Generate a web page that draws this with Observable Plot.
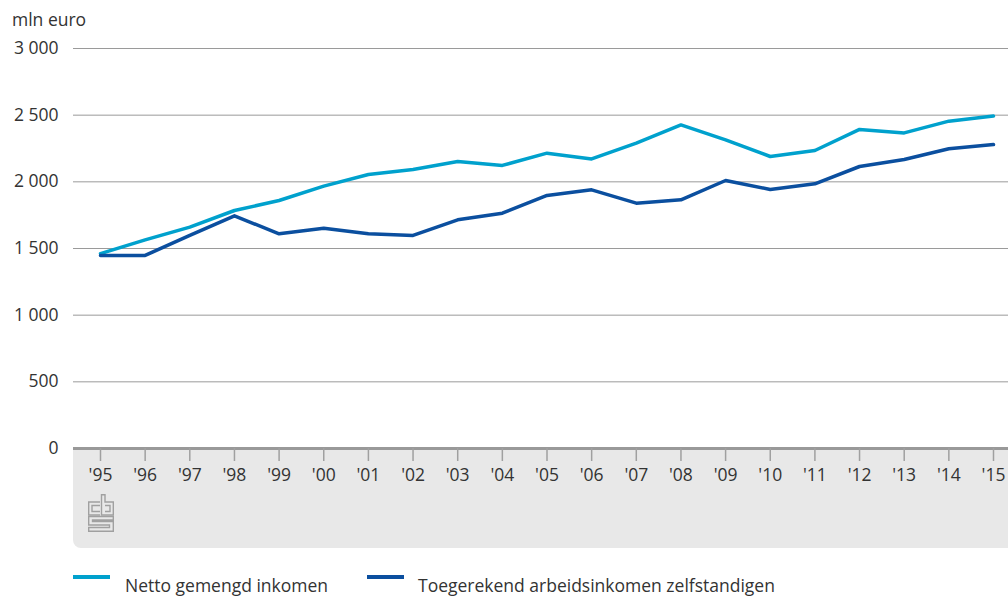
<!DOCTYPE html>
<html><head><meta charset="utf-8">
<script src="https://cdn.jsdelivr.net/npm/d3@7"></script>
<script src="https://cdn.jsdelivr.net/npm/@observablehq/plot@0.6"></script>
<style>
body{margin:0;background:#fff;font-family:"Open Sans",sans-serif;color:#333;width:1008px;overflow:hidden;}
#unit{height:30px;box-sizing:border-box;padding:7px 0 0 12px;font-size:17.5px;line-height:24px;color:#333;}
#legend{position:relative;height:36px;font-size:17.5px;line-height:24px;color:#333;}
.item{position:absolute;top:13px;white-space:nowrap;}
.sw{position:absolute;top:15px;width:37px;height:4px;}
</style></head>
<body>
<div id="unit">mln euro</div>
<div id="chart"></div>
<div id="legend"></div>
<script>
const years = [1995,1996,1997,1998,1999,2000,2001,2002,2003,2004,2005,2006,2007,2008,2009,2010,2011,2012,2013,2014,2015];
const tickLabels = ["'95","'96","'97","'98","'99","'00","'01","'02","'03","'04","'05","'06","'07","'08","'09","'10","'11","'12","'13","'14","'15"];
const seriesNames = ["Netto gemengd inkomen","Toegerekend arbeidsinkomen zelfstandigen"];
const netto = [1462,1565,1660,1785,1860,1968,2055,2093,2153,2123,2215,2172,2290,2427,2315,2190,2235,2393,2367,2455,2493];
const toegerekend = [1448,1448,1598,1745,1610,1652,1610,1598,1715,1765,1898,1940,1840,1865,2010,1943,1985,2115,2167,2248,2280];
const seriesColors = ["#00a1cd","#0b4f9f"];
const yTicks = [0,500,1000,1500,2000,2500,3000];

const data = years.flatMap((y,i)=>[
  {year:y, value:netto[i], series:seriesNames[0]},
  {year:y, value:toegerekend[i], series:seriesNames[1]}
]);

// grey footer panel under the x axis
function panel(index, scales, values, dims){
  const g = d3.create("svg:g");
  const x0 = dims.marginLeft, x1 = dims.width;
  const y0 = dims.height - dims.marginBottom + 1, y1 = dims.height - 12, r = 8;
  g.append("path")
    .attr("d", `M${x0},${y0}H${x1}V${y1}H${x0+r}A${r},${r} 0 0 1 ${x0},${y1-r}Z`)
    .attr("fill","#e8e8e8");
  return g.node();
}
// simple cbs logo outline
function logo(index, scales, values, dims){
  const g = d3.create("svg:g")
    .attr("transform", `translate(${dims.marginLeft+15},${dims.height-dims.marginBottom+46})`)
    .attr("fill","none").attr("stroke","#a0a0a0").attr("stroke-width",1.4);
  g.append("path").attr("d","M12,8H0.7V21H12M12,11.5H4V17.5H12");
  g.append("path").attr("d","M13.5,0.7V21H25.3V8H17V0.7ZM17,11.5H22V17.5H17");
  g.append("path").attr("d","M25.3,22.5H0.7V31H21.5V33.5H0.7V37.3H25.3V27.5H4.5V26H25.3Z");
  return g.node();
}

const plot = Plot.plot({
  width:1008, height:530,
  marginTop:18, marginLeft:73, marginRight:0, marginBottom:112,
  style:{fontFamily:"'Open Sans', sans-serif", fontSize:"17.5px", color:"#333", background:"transparent", overflow:"visible"},
  x:{type:"linear", domain:[1995,2015], insetLeft:27, insetRight:15},
  y:{domain:[0,3000]},
  color:{domain:seriesNames, range:seriesColors},
  marks:[
    panel,
    Plot.gridY(yTicks, {stroke:"#9a9a9a", strokeOpacity:1, strokeWidth:1}),
    Plot.axisY(yTicks, {tickSize:0, tickPadding:15, label:null, fontSize:17.5,
      tickFormat: d => d3.format(",")(d).replace(/,/g, "\u00a0")}),
    Plot.ruleY([0], {stroke:"#999", strokeWidth:3}),
    Plot.axisX(years, {tickSize:13, tickPadding:7, label:null, stroke:"#a0a0a0", strokeWidth:1.5, fontSize:17.5,
      tickFormat: d => tickLabels[years.indexOf(d)]}),
    Plot.line(data, {x:"year", y:"value", z:"series", stroke:"series", strokeWidth:3.5}),
    logo
  ]
});
document.getElementById("chart").appendChild(plot);

const legend = d3.select("#legend");
const swatchX = [73, 367];
const textX = [125, 418];
seriesNames.forEach((name,i)=>{
  legend.append("div").attr("class","sw").style("left", swatchX[i]+"px").style("background", seriesColors[i]);
  legend.append("div").attr("class","item").style("left", textX[i]+"px").text(name);
});
</script>
</body></html>
